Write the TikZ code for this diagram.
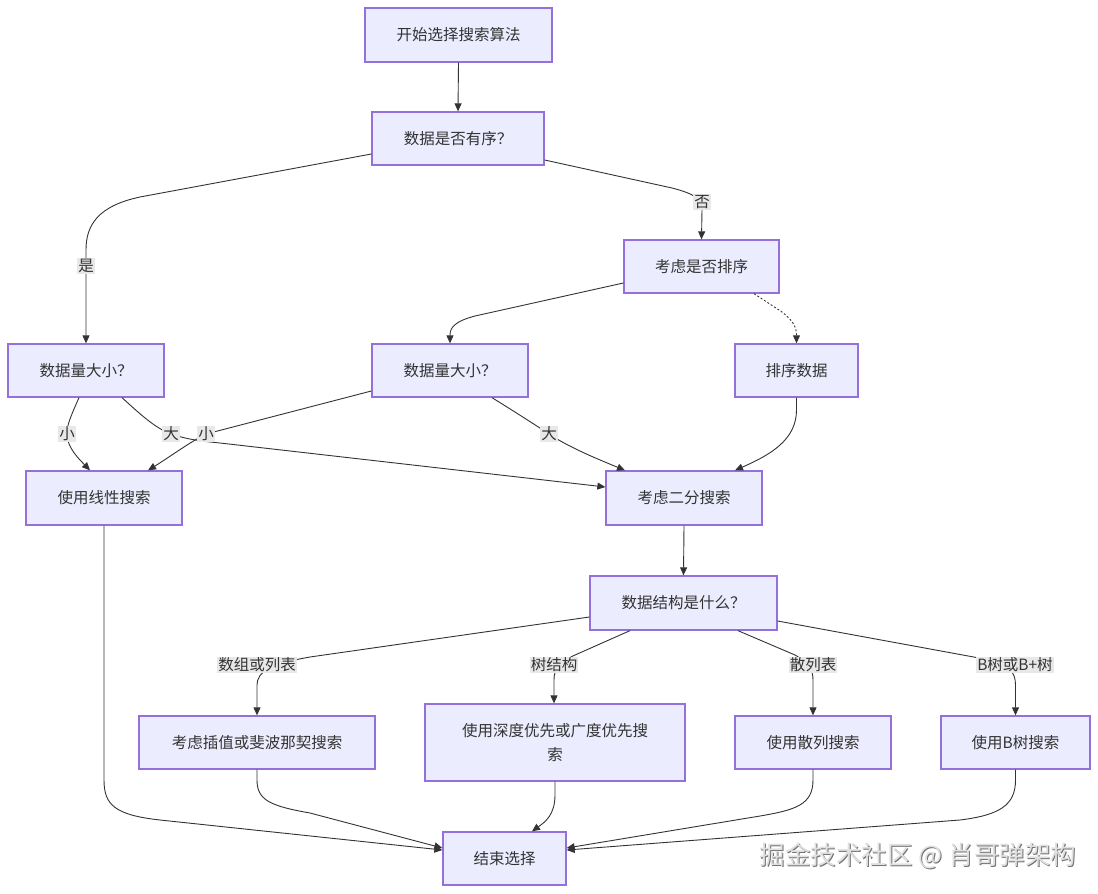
\documentclass[tikz,border=0pt]{standalone}
\usepackage{fontspec}
\newfontfamily\cjk{Noto Sans CJK SC}
\usetikzlibrary{arrows.meta}
\definecolor{boxfill}{HTML}{ECECFF}
\definecolor{boxdraw}{HTML}{9370DB}
\definecolor{edgec}{HTML}{333333}
\definecolor{lblfill}{HTML}{E8E8E8}
\tikzset{
  box/.style={draw=boxdraw,fill=boxfill,line width=1.3pt,text=edgec,font=\cjk\fontsize{15.5}{24}\selectfont,inner sep=2pt,align=center},
  lbl/.style={fill=lblfill,text=edgec,font=\cjk\fontsize{15.5}{18}\selectfont,inner sep=1pt},
  edge/.style={draw=edgec,line width=0.9pt,-{Triangle[length=8pt,width=7pt]}},
}
\begin{document}
\begin{tikzpicture}[x=1pt,y=-1pt]
\useasboundingbox[fill=white] (0,0) rectangle (1098,894);
% boxes
\node[box,minimum width=187pt,minimum height=54pt] (start) at (458.5,35) {开始选择搜索算法};
\node[box,minimum width=172pt,minimum height=53pt] (q1) at (458,138.5) {数据是否有序？};
\node[box,minimum width=155pt,minimum height=53pt] (sort) at (701.5,266.5) {考虑是否排序};
\node[box,minimum width=156pt,minimum height=53pt] (size1) at (86,370.5) {数据量大小？};
\node[box,minimum width=156pt,minimum height=53pt] (size2) at (450,370.5) {数据量大小？};
\node[box,minimum width=123pt,minimum height=53pt] (sortdata) at (796.5,370.5) {排序数据};
\node[box,minimum width=156pt,minimum height=54pt] (linear) at (104,498) {使用线性搜索};
\node[box,minimum width=156pt,minimum height=54pt] (binary) at (684,498) {考虑二分搜索};
\node[box,minimum width=187pt,minimum height=54pt] (ds) at (683.5,603) {数据结构是什么？};
\node[box,minimum width=236pt,minimum height=53pt] (interp) at (257,742.5) {考虑插值或斐波那契搜索};
\node[box,minimum width=260pt,minimum height=77pt] (dfs) at (555,742.5) {使用深度优先或广度优先搜\\索};
\node[box,minimum width=156pt,minimum height=53pt] (hash) at (813,742.5) {使用散列搜索};
\node[box,minimum width=149pt,minimum height=53pt] (btree) at (1015.5,742.5) {使用B树搜索};
\node[box,minimum width=123pt,minimum height=53pt] (end) at (504.5,858.5) {结束选择};
% label positions
\coordinate (cyes) at (86,266);
\coordinate (cno) at (702,202);
\coordinate (cs1) at (67,434);
\coordinate (cb1) at (171,434);
\coordinate (cs2) at (206,434);
\coordinate (cb2) at (549,434);
\coordinate (carr) at (257,665);
\coordinate (ctree) at (554,665);
\coordinate (chash) at (813,665);
\coordinate (cbt) at (1015,665);
% edges
\draw[edge] (start.south) -- (q1.north);
\draw[edge] ([yshift=-15.5pt]q1.west) -- (140,197) .. controls (98,206) and (86,225) .. (86,250) -- (cyes) -- (size1.north);
\draw[edge] ([yshift=-21.5pt]q1.east) -- (672,188) .. controls (695,194) and (702,199) .. (702,210) -- (sort.north);
\draw[edge] ([yshift=-16.5pt]sort.west) -- (475,316) .. controls (456,321) and (450,327) .. (450,335) -- (size2.north);
\draw[edge,dash pattern=on 2pt off 2pt] ([xshift=52.5pt]sort.south) -- (782,312) .. controls (792,320) and (796.5,326) .. (796.5,335) -- (sortdata.north);
\draw[edge] ([xshift=-7pt]size1.south) .. controls (70,418) and (67,425) .. (cs1) .. controls (67,448) and (80,460) .. ([xshift=-14pt]linear.north);
\draw[edge] ([xshift=36pt]size1.south) .. controls (140,414) and (155,428) .. (cb1) .. controls (190,440) and (200,441) .. (220,443) -- ([yshift=11pt]binary.west);
\draw[edge] ([yshift=-20.5pt]size2.west) -- (cs2) .. controls (190,442) and (168,458) .. ([xshift=44pt]linear.north);
\draw[edge] ([xshift=42pt]size2.south) .. controls (520,415) and (540,428) .. (cb2) .. controls (570,448) and (600,460) .. ([xshift=-59pt]binary.north);
\draw[edge] (sortdata.south) -- (796.5,410) .. controls (796.5,440) and (770,455) .. ([xshift=51pt]binary.north);
\draw[edge] (binary.south) -- (ds.north);
\draw[edge] ([yshift=-14pt]ds.west) -- (310,657) .. controls (270,664) and (257,672) .. (257,685) -- (interp.north);
\draw[edge] ([xshift=-53.5pt]ds.south) -- (575,655) .. controls (558,663) and (554,670) .. (554,680) -- ([xshift=-1pt]dfs.north);
\draw[edge] ([xshift=54.5pt]ds.south) -- (795,655) .. controls (809,663) and (813,670) .. (813,680) -- (hash.north);
\draw[edge] ([yshift=-18pt]ds.east) -- (990,660) .. controls (1009,665) and (1015.5,672) .. (1015.5,685) -- (btree.north);
\draw[edge] (linear.south) -- (104,780) .. controls (104,805) and (115,815) .. (160,820) -- ([yshift=8.5pt]end.west);
\draw[edge] (interp.south) -- (257,780) .. controls (257,800) and (270,806) .. (310,813) -- ([yshift=10.5pt]end.west);
\draw[edge] (dfs.south) -- (555,795) .. controls (555,815) and (545,822) .. ([xshift=27.5pt]end.north);
\draw[edge] (hash.south) -- (813,780) .. controls (813,805) and (795,810) .. (760,816) -- ([yshift=10.5pt]end.east);
\draw[edge] (btree.south) -- (1015.5,780) .. controls (1015.5,805) and (1000,815) .. (960,820) -- ([yshift=8.5pt]end.east);
% labels
\node[lbl] (lyes) at (cyes) {是};
\node[lbl] (lno) at (cno) {否};
\node[lbl] (ls1) at (cs1) {小};
\node[lbl] (lb1) at (cb1) {大};
\node[lbl] (ls2) at (cs2) {小};
\node[lbl] (lb2) at (cb2) {大};
\node[lbl] (larr) at (carr) {数组或列表};
\node[lbl] (ltree) at (ctree) {树结构};
\node[lbl] (lhash) at (chash) {散列表};
\node[lbl] (lbt) at (cbt) {B树或B+树};
% watermark
\node[text=black!55,font=\cjk\fontsize{25.5}{28}\selectfont] (wmshadow) at (919,857) {掘金技术社区 @ 肖哥弹架构};
\node[text=black!12,font=\cjk\fontsize{25.5}{28}\selectfont] (wm) at (918,856) {掘金技术社区 @ 肖哥弹架构};
\end{tikzpicture}
\end{document}
